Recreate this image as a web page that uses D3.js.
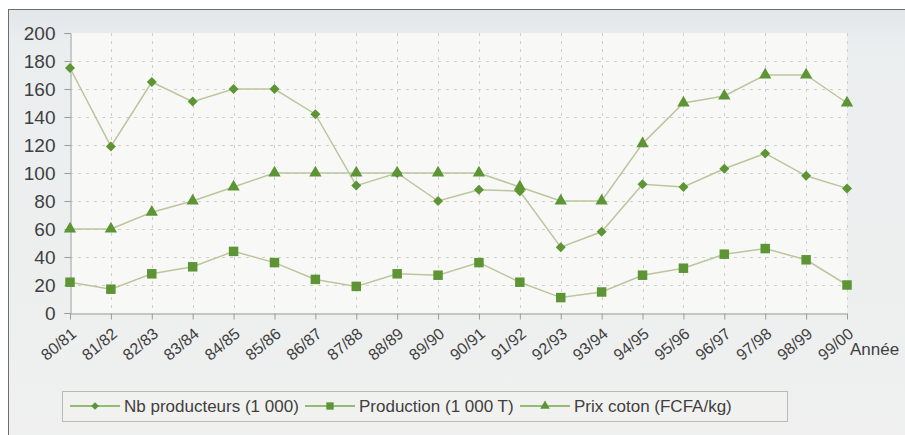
<!DOCTYPE html>
<html>
<head>
<meta charset="utf-8">
<script src="https://cdn.jsdelivr.net/npm/d3@7"></script>
<style>
  body { margin: 0; background: #fff; }
  svg { display: block; font-family: "Liberation Sans", Arial, sans-serif; }
</style>
</head>
<body>
<svg id="chart" width="905" height="435"></svg>
<script>
var years = ['80/81', '81/82', '82/83', '83/84', '84/85', '85/86', '86/87', '87/88', '88/89', '89/90',
    '90/91', '91/92', '92/93', '93/94', '94/95', '95/96', '96/97', '97/98', '98/99', '99/00'];

var producteurs = [175, 119, 165, 151, 160, 160, 142, 91, 100, 80, 88, 87, 47, 58, 92, 90, 103, 114, 98, 89];
var production = [22, 17, 28, 33, 44, 36, 24, 19, 28, 27, 36, 22, 11, 15, 27, 32, 42, 46, 38, 20];
var prixCoton = [60, 60, 72, 80, 90, 100, 100, 100, 100, 100, 100, 90, 80, 80, 121, 150, 155, 170, 170, 150];

var yTicks = [0, 20, 40, 60, 80, 100, 120, 140, 160, 180, 200];

var series = [
    { name: 'Nb producteurs (1 000)', values: producteurs, symbol: d3.symbolSquare, size: 50, rotate: 45 },
    { name: 'Production (1 000 T)', values: production, symbol: d3.symbolSquare, size: 90, rotate: 0 },
    { name: 'Prix coton (FCFA/kg)', values: prixCoton, symbol: d3.symbolTriangle, size: 66, rotate: 0 }
];

var markerColor = '#5d9434';
var lineColor = '#bcc59e';

var svg = d3.select('#chart');
var plot = { left: 70, right: 847, top: 33, bottom: 313 };

// outer panel
var defs = svg.append('defs');
var grad = defs.append('linearGradient').attr('id', 'panelGrad')
    .attr('x1', 0).attr('y1', 0).attr('x2', 0).attr('y2', 1);
grad.append('stop').attr('offset', '0%').attr('stop-color', '#e1e6e9');
grad.append('stop').attr('offset', '8%').attr('stop-color', '#ebeeef');
grad.append('stop').attr('offset', '100%').attr('stop-color', '#eff0ef');

svg.append('rect')
    .attr('x', 8.5).attr('y', 9.5)
    .attr('width', 905).attr('height', 440)
    .attr('fill', 'url(#panelGrad)')
    .attr('stroke', '#6d6d6d')
    .attr('stroke-width', 1);

svg.append('rect')
    .attr('x', plot.left).attr('y', plot.top)
    .attr('width', plot.right - plot.left).attr('height', plot.bottom - plot.top)
    .attr('fill', '#f8f9f7');

var x = d3.scalePoint().domain(years).range([plot.left, plot.right]);
var y = d3.scaleLinear().domain([0, 200]).range([plot.bottom, plot.top]);

// grid
svg.append('g').selectAll('line')
    .data(yTicks.slice(1, -1))
    .join('line')
    .attr('x1', plot.left).attr('x2', plot.right)
    .attr('y1', function (d) { return y(d) + 0.5; })
    .attr('y2', function (d) { return y(d) + 0.5; })
    .attr('stroke', '#cfd0cd')
    .attr('stroke-dasharray', '3,5');

svg.append('g').selectAll('line')
    .data(years.slice(1))
    .join('line')
    .attr('x1', function (d) { return Math.round(x(d)) + 0.5; })
    .attr('x2', function (d) { return Math.round(x(d)) + 0.5; })
    .attr('y1', plot.top).attr('y2', plot.bottom)
    .attr('stroke', '#cfd0cd')
    .attr('stroke-dasharray', '3,5');

// axes
var yAxis = svg.append('g')
    .attr('transform', 'translate(' + (plot.left + 0.5) + ',0)')
    .call(d3.axisLeft(y).tickValues(yTicks).tickSize(6).tickPadding(9));
yAxis.select('.domain').attr('stroke', '#9a9a9a');
yAxis.selectAll('.tick line').attr('stroke', '#9a9a9a');
yAxis.selectAll('.tick text')
    .attr('fill', '#3f3f3f')
    .style('font-size', '19px')
    .style('font-family', '"Liberation Sans", Arial, sans-serif');

var xAxis = svg.append('g')
    .attr('transform', 'translate(0,' + (plot.bottom + 0.5) + ')')
    .call(d3.axisBottom(x).tickSize(6).tickSizeOuter(0));
xAxis.select('.domain').attr('stroke', '#9a9a9a');
xAxis.selectAll('.tick line').attr('stroke', '#9a9a9a');
xAxis.selectAll('.tick text')
    .attr('fill', '#3f3f3f')
    .attr('y', 0).attr('dy', 0)
    .attr('text-anchor', 'end')
    .attr('transform', 'translate(7,22) rotate(-40)')
    .style('font-size', '16px')
    .style('font-family', '"Liberation Sans", Arial, sans-serif');

svg.append('text')
    .attr('x', 850).attr('y', 355)
    .attr('fill', '#3f3f3f')
    .style('font-size', '17px')
    .text('Année');

// series
var line = d3.line()
    .x(function (d, i) { return x(years[i]); })
    .y(function (d) { return y(d); });

series.forEach(function (s) {
    svg.append('path')
        .datum(s.values)
        .attr('d', line)
        .attr('fill', 'none')
        .attr('stroke', lineColor)
        .attr('stroke-width', 1.5);
});

series.forEach(function (s) {
    var sym = d3.symbol().type(s.symbol).size(s.size);
    svg.append('g').selectAll('path')
        .data(s.values)
        .join('path')
        .attr('d', sym)
        .attr('transform', function (d, i) {
            return 'translate(' + x(years[i]) + ',' + y(d) + ') rotate(' + s.rotate + ')';
        })
        .attr('fill', markerColor);
});

// legend
var legend = svg.append('g');
legend.append('rect')
    .attr('x', 62.5).attr('y', 391.5)
    .attr('width', 725).attr('height', 30)
    .attr('fill', '#f1f2f0')
    .attr('stroke', '#b9bab8');

var legendX = [70, 305, 520];
series.forEach(function (s, i) {
    var g = legend.append('g').attr('transform', 'translate(' + legendX[i] + ',406)');
    g.append('line')
        .attr('x1', 0).attr('x2', 50)
        .attr('stroke', '#73a84c').attr('stroke-width', 1.5);
    g.append('path')
        .attr('d', d3.symbol().type(s.symbol).size(s.size * 0.6))
        .attr('transform', 'translate(25,0) rotate(' + s.rotate + ')')
        .attr('fill', markerColor);
    g.append('text')
        .attr('x', 54).attr('y', 6)
        .attr('fill', '#3f3f3f')
        .style('font-size', '17px')
        .text(s.name);
});
</script>
</body>
</html>
